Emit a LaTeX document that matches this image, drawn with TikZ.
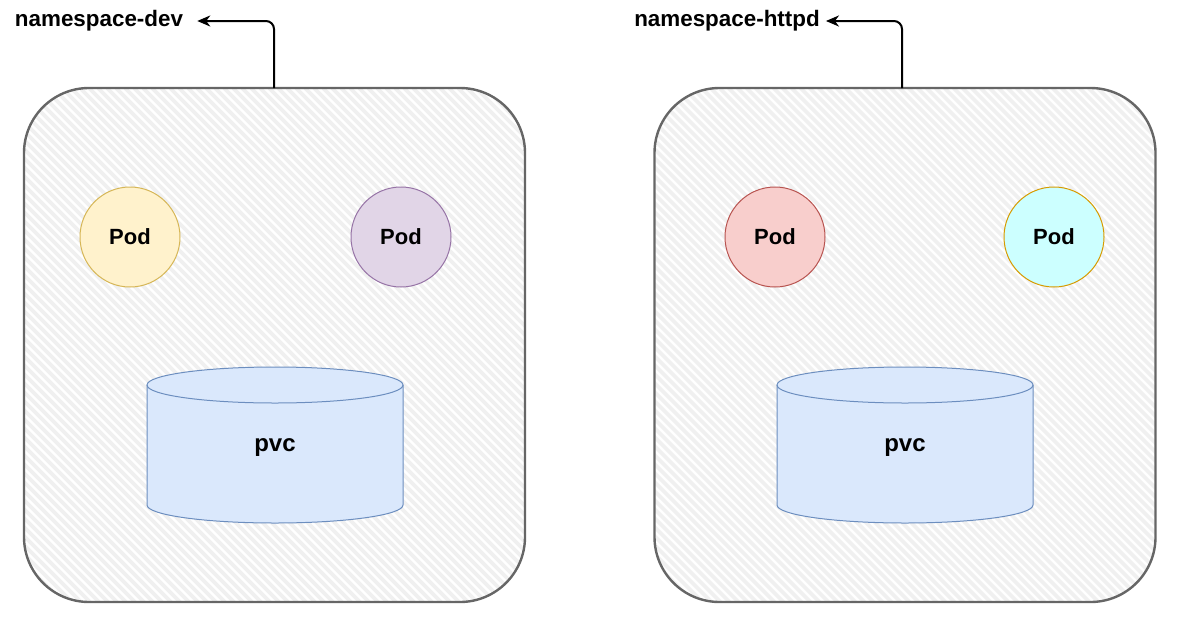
\documentclass[tikz,border=0pt]{standalone}
\usepackage{fontspec}
\setmainfont{Liberation Sans}
\usetikzlibrary{arrows.meta,calc}
\definecolor{boxline}{HTML}{666666}
\definecolor{hatchc}{HTML}{F0F0F0}
\definecolor{yelF}{HTML}{FFF2CC}\definecolor{yelD}{HTML}{D6B656}
\definecolor{purF}{HTML}{E1D5E7}\definecolor{purD}{HTML}{9673A6}
\definecolor{redF}{HTML}{F8CECC}\definecolor{redD}{HTML}{B85450}
\definecolor{cyaF}{HTML}{CCFFFF}\definecolor{cyaD}{HTML}{D79B00}
\definecolor{cylF}{HTML}{DAE8FC}\definecolor{cylD}{HTML}{6C8EBF}
\tikzset{
  nsbox/.style={draw=boxline, line width=2.4pt, fill=white, rounded corners=65pt,
    minimum width=501pt, minimum height=514pt, inner sep=0pt,
    path picture={
      \foreach \i in {-520,-511,...,520}
        \draw[hatchc, line width=3.6pt]
          ($(path picture bounding box.north west)+(\i,0)$) -- ++(540,540);
    }},
  pod/.style={circle, draw=#1D, fill=#1F, line width=1pt, minimum size=100pt,
    inner sep=0pt, font=\fontsize{22}{26}\selectfont\bfseries},
  nslabel/.style={font=\fontsize{22.4}{26}\selectfont\bfseries, inner ysep=0pt},
  conn/.style={draw=black, line width=2pt, rounded corners=8pt,
    -{Stealth[length=13pt,width=11pt,inset=4pt]}},
  cyltext/.style={font=\fontsize{24}{28}\selectfont\bfseries, inner sep=0pt},
}
\begin{document}
\begin{tikzpicture}[x=1pt,y=-1pt]
\useasboundingbox (0,0) rectangle (1178,616);

% namespace boxes
\node[nsbox] (ns1) at (274.5,345) {};
\node[nsbox] (ns2) at (905,345) {};

% labels
\node[nslabel, inner xsep=14pt] (lab1) at (99,21) {namespace-dev};
\node[nslabel, inner xsep=6pt] (lab2) at (727,21) {namespace-httpd};
\coordinate (s1) at (274,88);
\coordinate (s2) at (902,88);
\draw[conn] (s1) |- (lab1.east);
\draw[conn] (s2) |- (lab2.east);

% pods
\node[pod=yel] (p1) at (130,237) {Pod};
\node[pod=pur] (p2) at (401,237) {Pod};
\node[pod=red] (p3) at (775,237) {Pod};
\node[pod=cya] (p4) at (1054,237) {Pod};

% cylinders
\foreach \cx/\nm in {275/c1, 905/c2}{
  \fill[cylF] (\cx-128,385) -- (\cx-128,505) arc[start angle=180, end angle=360, x radius=128, y radius=-18]
     -- (\cx+128,385) -- cycle;
  \fill[cylF] (\cx,385) ellipse[x radius=128, y radius=18];
  \draw[cylD, line width=1pt] (\cx-128,385) -- (\cx-128,505)
     arc[start angle=180, end angle=360, x radius=128, y radius=-18] -- (\cx+128,385);
  \draw[cylD, line width=1pt] (\cx,385) ellipse[x radius=128, y radius=18];
  \node[cyltext] (\nm) at (\cx,448) {pvc};
}
\end{tikzpicture}
\end{document}
